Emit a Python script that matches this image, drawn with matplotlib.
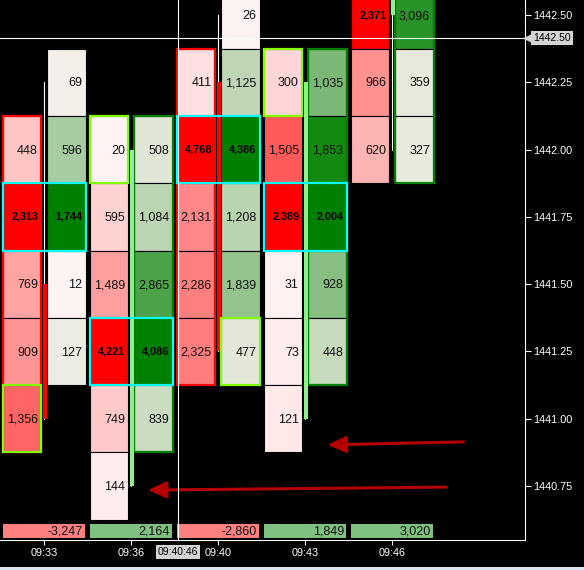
import numpy as np
import matplotlib.pyplot as plt
import matplotlib.transforms as mtransforms
from matplotlib.patches import Rectangle
from matplotlib.colors import to_rgb

# price levels, top row 1442.75 is above the visible range
levels = [1442.75, 1442.50, 1442.25, 1442.00, 1441.75, 1441.50, 1441.25, 1441.00, 1440.75]
times = ['09:33', '09:36', '09:40', '09:43', '09:46']
nan = np.nan

# volume traded at bid (left column) and at ask (right column), per bar and level
bid = [
    [nan, nan, nan, 448, 2313, 769, 909, 1356, nan],
    [nan, nan, nan, 20, 595, 1489, 4221, 749, 144],
    [nan, nan, 411, 4768, 2131, 2286, 2325, nan, nan],
    [nan, nan, 300, 1505, 2389, 31, 73, 121, nan],
    [505, 2371, 966, 620, nan, nan, nan, nan, nan],   # 1442.75 off-screen, estimated
]
ask = [
    [nan, nan, 69, 596, 1744, 12, 127, nan, nan],
    [nan, nan, nan, 508, 1084, 2865, 4086, 839, nan],
    [nan, 26, 1125, 4386, 1208, 1839, 477, nan, nan],
    [nan, nan, 1035, 1853, 2004, 928, 448, nan, nan],
    [3700, 3096, 359, 327, nan, nan, nan, nan, nan],  # 1442.75 off-screen, estimated
]
delta = [-3247, 2164, -2860, 1849, 3020]

opens = [1441.50, 1440.75, 1442.25, 1441.00, 1442.50]
highs = [1442.25, 1442.00, 1442.50, 1442.25, 1442.75]
lows = [1441.00, 1440.75, 1441.25, 1441.00, 1442.00]
closes = [1441.00, 1442.00, 1441.25, 1442.25, 1442.75]

poc = [1441.75, 1441.25, 1442.00, 1441.75, None]
unfinished = [(0, 'bid', 1441.00), (1, 'bid', 1442.00), (2, 'ask', 1441.25), (3, 'bid', 1442.25)]

cursor_x = 1.54
cursor_price = 1442.415
cursor_time = '09:40:46'

# hand drawn arrows: (tail, tip)
arrows = [((4.82, 1440.914), (3.26, 1440.903)),
          ((4.62, 1440.746), (1.195, 1440.735))]

cell_font = ['Liberation Sans', 'DejaVu Sans']


def shade(v, vmax, full):
    f = min(v / vmax, 1.0)
    lo = np.array(to_rgb('#fff4f4'))
    hi = np.array(to_rgb(full))
    return tuple(lo + (hi - lo) * f)


fig = plt.figure(figsize=(5.84, 5.70), dpi=100, facecolor='black')
ax = fig.add_axes([0, 30 / 570, 525 / 584, 540 / 570])
ax.set_facecolor('black')
ax.set_xlim(-44 / 87, (525 - 44) / 87)
ax.set_ylim(1442.5 - 525 / 67.29 * 0.25, 1442.5 + 15 / 67.29 * 0.25)

cols = {'bid': (-0.47, 0.44, '#ff0000'), 'ask': (0.04, 0.44, '#008000')}

for i in range(len(times)):
    for side, data in (('bid', bid[i]), ('ask', ask[i])):
        x0, w, full = cols[side]
        vmax = np.nanmax(data)
        for lvl, v in zip(levels, data):
            if np.isnan(v):
                continue
            ax.add_patch(Rectangle((i + x0, lvl - 0.125), w, 0.25,
                                   fc=shade(v, vmax, full), ec='black', lw=0.8, zorder=2))
            if v == vmax:
                ax.text(i + x0 + w - 0.035, lvl, f'{v:,.0f}', ha='right', va='center',
                        fontsize=7.8, fontweight='bold', color='black',
                        family=cell_font, zorder=6, clip_on=True)
            else:
                ax.text(i + x0 + w - 0.04, lvl - 0.004, f'{v:,.0f}', ha='right', va='center',
                        fontsize=9, color='#111111', family=cell_font, zorder=6, clip_on=True)

    # outline around the dominant column
    side = 'ask' if delta[i] > 0 else 'bid'
    data = ask[i] if side == 'ask' else bid[i]
    x0, w, full = cols[side]
    filled = [l for l, v in zip(levels, data) if not np.isnan(v)]
    ax.add_patch(Rectangle((i + x0, min(filled) - 0.125), w, max(filled) - min(filled) + 0.25,
                           fc='none', ec=full, lw=1.6, zorder=3))

    # point of control box
    if poc[i] is not None:
        ax.add_patch(Rectangle((i - 0.47, poc[i] - 0.125), 0.95, 0.25,
                               fc='none', ec='#00ffff', lw=1.6, zorder=4))

    # candle in the gap between the two columns
    ax.plot([i, i], [lows[i], highs[i]], color='white', lw=0.8, zorder=3)
    body = '#90ee90' if closes[i] > opens[i] else '#ff0000'
    ax.add_patch(Rectangle((i - 0.015, min(opens[i], closes[i])), 0.045,
                           abs(closes[i] - opens[i]), fc=body, ec='none', zorder=3))

for i, side, lvl in unfinished:
    x0, w, _ = cols[side]
    ax.add_patch(Rectangle((i + x0, lvl - 0.125), w, 0.25, fc='none', ec='#80ff00',
                           lw=1.6, zorder=5))

# bar delta row
bx = mtransforms.blended_transform_factory(ax.transData, ax.transAxes)
for i, d in enumerate(delta):
    ax.add_patch(Rectangle((i - 0.47, 0.0037), 0.94, 0.026, transform=bx,
                           fc='#80c080' if d > 0 else '#ff8080', ec='none', zorder=2))
    ax.text(i + 0.45, 0.0165, f'{d:,}', transform=bx, ha='right', va='center',
            fontsize=9, color='#111111', family=cell_font, zorder=6)

# arrows
for tail, tip in arrows:
    ax.annotate('', xy=tip, xytext=tail,
                arrowprops=dict(arrowstyle='-|>,head_length=1.1,head_width=0.5',
                                color='#b40000', lw=2.2, shrinkA=0, shrinkB=0,
                                mutation_scale=10), zorder=7)

# crosshair
ax.axvline(cursor_x, color='white', lw=0.8, zorder=8)
ax.axhline(cursor_price, color='white', lw=0.8, zorder=8)
by = mtransforms.blended_transform_factory(ax.transAxes, ax.transData)
ax.plot([1.0 + 4 / 525], [cursor_price], marker='<', ms=7, color='#d4d4d4',
        transform=by, clip_on=False, zorder=9)
ax.text(1.0 + 8 / 525, cursor_price, f'{round(cursor_price * 4) / 4:.2f}', transform=by,
        ha='left', va='center', fontsize=7.5, color='black', family='Liberation Sans',
        bbox=dict(boxstyle='square,pad=0.2', fc='#d4d4d4', ec='none'), clip_on=False, zorder=9)
ax.text(cursor_x, -12 / 540, cursor_time, transform=bx, ha='center', va='center',
        fontsize=7.5, color='black', family='Liberation Sans',
        bbox=dict(boxstyle='square,pad=0.2', fc='#d4d4d4', ec='none'), clip_on=False, zorder=9)

# axes
ax.set_xticks(range(len(times)))
ax.set_xticklabels(times, family='Liberation Sans')
ax.set_yticks([1440.75, 1441.00, 1441.25, 1441.50, 1441.75, 1442.00, 1442.25, 1442.50])
ax.yaxis.tick_right()
ax.yaxis.set_major_formatter(plt.FormatStrFormatter('%.2f'))
for lab in ax.get_yticklabels():
    lab.set_family('Liberation Sans')
ax.tick_params(axis='y', colors='white', length=4.3, width=0.8, pad=1.5, labelsize=7.8)
ax.tick_params(axis='x', colors='white', length=3.5, width=0.8, pad=2, labelsize=7.8)
for s in ('top', 'left'):
    ax.spines[s].set_visible(False)
for s in ('right', 'bottom'):
    ax.spines[s].set_color('white')
    ax.spines[s].set_linewidth(0.8)

fig.patches.append(Rectangle((0, 0), 1, 3 / 570, transform=fig.transFigure,
                             fc='#dbe6f4', ec='none'))

fig.savefig('out.png', dpi=100, facecolor='black')
